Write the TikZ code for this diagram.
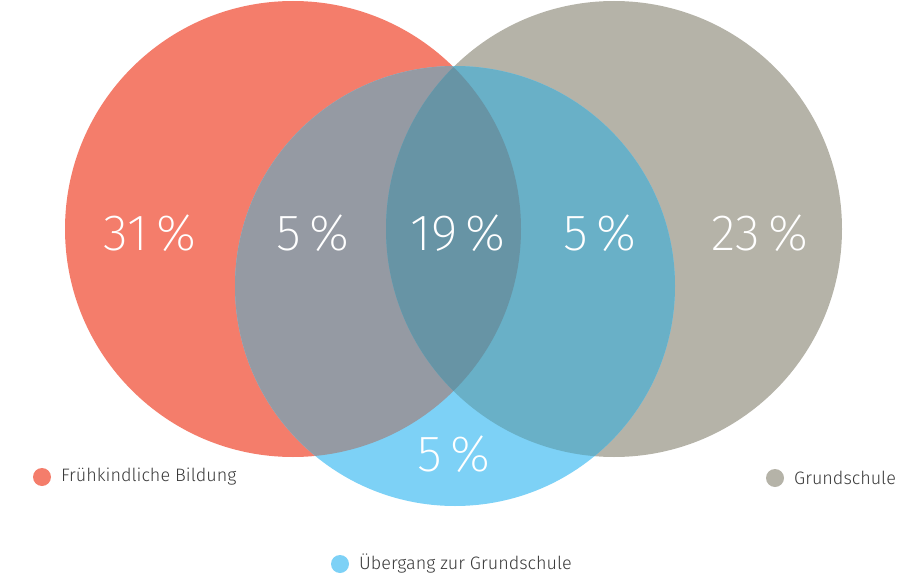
\documentclass[tikz,border=0pt]{standalone}
\usepackage{fontspec}
\setmainfont{Fira Sans Light}
\newfontfamily\thinfont{Fira Sans ExtraLight}
\definecolor{cred}{HTML}{F47D6B}
\definecolor{cgray}{HTML}{B5B3A8}
\definecolor{cblue}{HTML}{7DD1F6}
\definecolor{credblue}{HTML}{959AA3}
\definecolor{cbluegray}{HTML}{69B0C7}
\definecolor{ctriple}{HTML}{6794A5}
\definecolor{ctxt}{HTML}{3A3A3A}
\tikzset{
  pct/.style={text=white, font=\thinfont\fontsize{51}{51}\selectfont, inner sep=0pt, anchor=center},
  legtxt/.style={text=ctxt, font=\fontsize{18}{18}\selectfont, anchor=west, inner sep=0pt},
  legdot/.style={circle, minimum size=18pt, inner sep=0pt}
}
\begin{document}
\begin{tikzpicture}[x=1pt,y=-1pt]
\useasboundingbox (0,0) rectangle (908,578);
\def\redc{(293,229) circle (228)}
\def\grayc{(614,229) circle (228)}
\def\bluec{(455,286) circle (220)}
\fill[cred] \redc;
\fill[cgray] \grayc;
\fill[cblue] \bluec;
\begin{scope}
  \clip \redc;
  \fill[credblue] \bluec;
\end{scope}
\begin{scope}
  \clip \grayc;
  \fill[cbluegray] \bluec;
\end{scope}
\begin{scope}
  \clip \redc;
  \clip \grayc;
  \fill[ctriple] (0,0) rectangle (908,578);
\end{scope}
\node[pct] (p1) at (150,233) {31\,\%};
\node[pct] (p2) at (313,233) {5\,\%};
\node[pct] (p3) at (458,233) {19\,\%};
\node[pct] (p4) at (600,233) {5\,\%};
\node[pct] (p5) at (760,233) {23\,\%};
\node[pct] (p6) at (454,454) {5\,\%};
\node[legdot, fill=cred] (d1) at (42,477) {};
\node[legtxt] (l1) at (61,477) {Frühkindliche Bildung};
\node[legdot, fill=cgray] (d2) at (775,478) {};
\node[legtxt] (l2) at (794,478) {Grundschule};
\node[legdot, fill=cblue] (d3) at (340,564) {};
\node[legtxt] (l3) at (359,564) {Übergang zur Grundschule};
\end{tikzpicture}
\end{document}
